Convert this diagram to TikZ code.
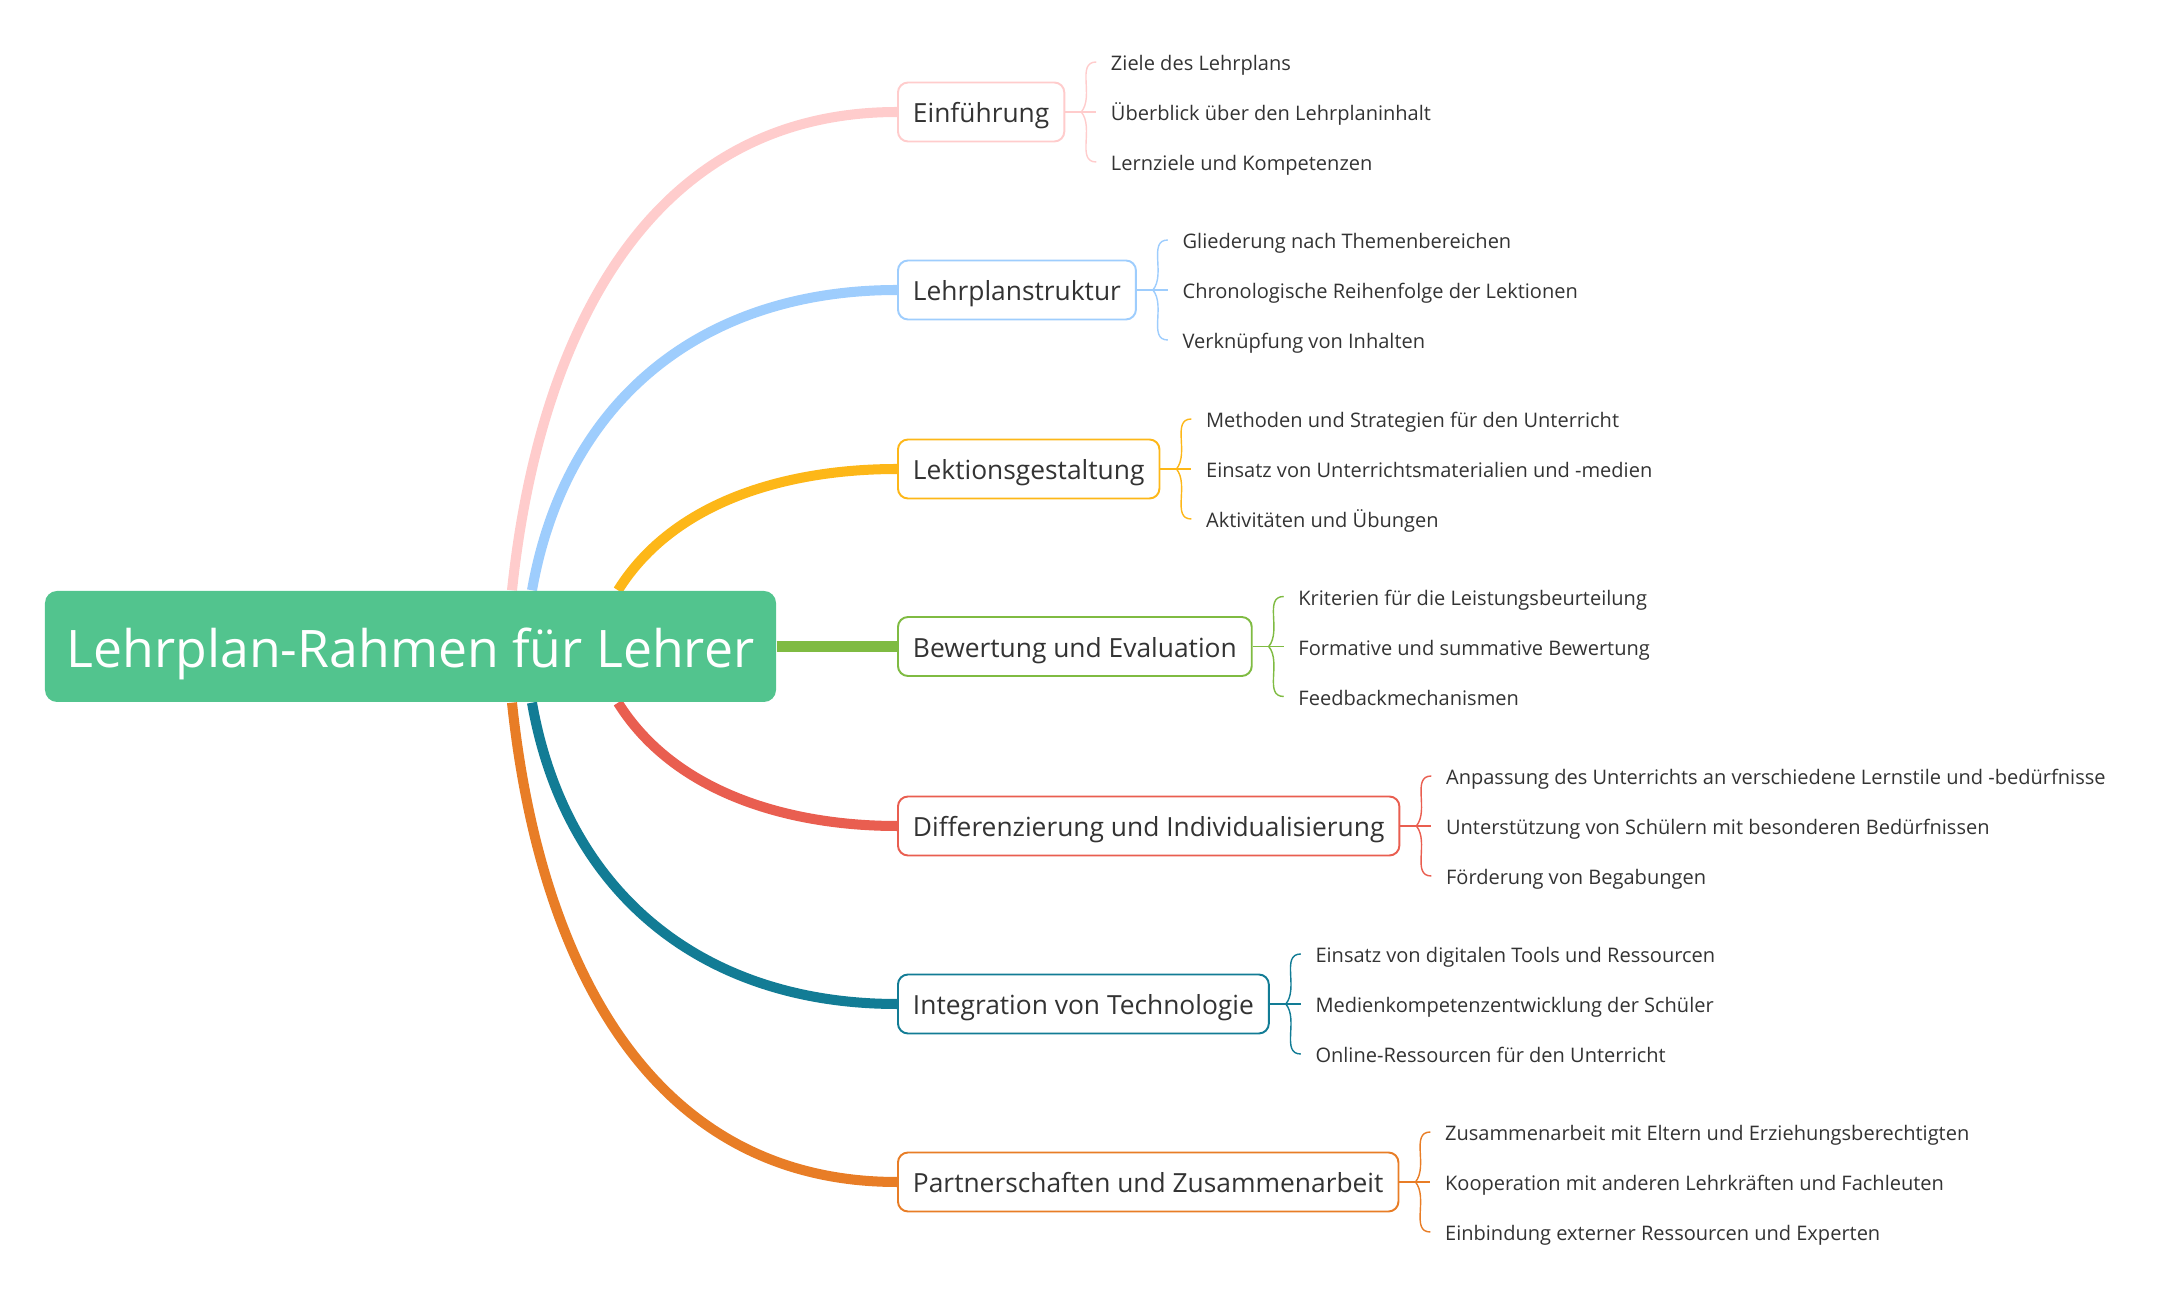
\documentclass[tikz,border=0pt]{standalone}
\usepackage{fontspec}
\setmainfont{Open Sans}
\usepackage{tikz}
\usetikzlibrary{positioning,backgrounds}
\definecolor{RootGreen}{HTML}{52C48E}
\definecolor{PinkLine}{HTML}{FFCCCC}
\definecolor{BlueLine}{HTML}{9ECDFD}
\definecolor{YellowLine}{HTML}{FDB718}
\definecolor{GreenLine}{HTML}{7FBB42}
\definecolor{RedLine}{HTML}{E95E50}
\definecolor{TealLine}{HTML}{127C95}
\definecolor{OrangeLine}{HTML}{E87D26}
\definecolor{TextGray}{HTML}{333333}
\tikzset{
  rootnode/.style={fill=RootGreen,rounded corners=0.12cm,
    minimum width=7.31cm,minimum height=1.11cm,inner sep=0pt,
    text height=11.9pt,text depth=0pt,
    font=\fontsize{14.72}{17}\selectfont\color{white}},
  brnode/.style={draw=#1,fill=white,rounded corners=0.1cm,line width=0.55pt,
    minimum height=0.59cm,inner xsep=0.15cm,inner ysep=0pt,anchor=west,
    text height=6pt,text depth=0pt,
    font=\fontsize{7.5}{9}\selectfont\color{TextGray}},
  leaf/.style={inner xsep=0.14cm,inner ysep=1pt,
    text height=4.9pt,text depth=0pt,
    font=\fontsize{5.7}{7}\selectfont\color{TextGray}},
  mainedge/.style={line width=2.85pt,draw=#1,looseness=1.05},
  brace/.style={line width=0.4pt,draw=#1},
}
\begin{document}
\begin{tikzpicture}
  \useasboundingbox (0,0) rectangle (21.64,13.10);
  \node[rootnode] (root) at (4.105,6.635) {Lehrplan-Rahmen für Lehrer};
  % branches
  \node[brnode=PinkLine] (b1) at (8.97,11.98) {Einführung};
  \node[brnode=BlueLine] (b2) at (8.97,10.20) {Lehrplanstruktur};
  \node[brnode=YellowLine] (b3) at (8.97,8.41) {Lektionsgestaltung};
  \node[brnode=GreenLine] (b4) at (8.97,6.635) {Bewertung und Evaluation};
  \node[brnode=RedLine] (b5) at (8.97,4.84) {Differenzierung und Individualisierung};
  \node[brnode=TealLine] (b6) at (8.97,3.06) {Integration von Technologie};
  \node[brnode=OrangeLine] (b7) at (8.97,1.28) {Partnerschaften und Zusammenarbeit};
  % leaves
  \node[leaf, right=0.31 of b1] (l12) {Überblick über den Lehrplaninhalt};
  \node[leaf, above=0.5 of l12.west, anchor=west] (l11) {Ziele des Lehrplans};
  \node[leaf, below=0.5 of l12.west, anchor=west] (l13) {Lernziele und Kompetenzen};
  \node[leaf, right=0.31 of b2] (l22) {Chronologische Reihenfolge der Lektionen};
  \node[leaf, above=0.5 of l22.west, anchor=west] (l21) {Gliederung nach Themenbereichen};
  \node[leaf, below=0.5 of l22.west, anchor=west] (l23) {Verknüpfung von Inhalten};
  \node[leaf, right=0.31 of b3] (l32) {Einsatz von Unterrichtsmaterialien und -medien};
  \node[leaf, above=0.5 of l32.west, anchor=west] (l31) {Methoden und Strategien für den Unterricht};
  \node[leaf, below=0.5 of l32.west, anchor=west] (l33) {Aktivitäten und Übungen};
  \node[leaf, right=0.31 of b4] (l42) {Formative und summative Bewertung};
  \node[leaf, above=0.5 of l42.west, anchor=west] (l41) {Kriterien für die Leistungsbeurteilung};
  \node[leaf, below=0.5 of l42.west, anchor=west] (l43) {Feedbackmechanismen};
  \node[leaf, right=0.31 of b5] (l52) {Unterstützung von Schülern mit besonderen Bedürfnissen};
  \node[leaf, above=0.5 of l52.west, anchor=west] (l51) {Anpassung des Unterrichts an verschiedene Lernstile und -bedürfnisse};
  \node[leaf, below=0.5 of l52.west, anchor=west] (l53) {Förderung von Begabungen};
  \node[leaf, right=0.31 of b6] (l62) {Medienkompetenzentwicklung der Schüler};
  \node[leaf, above=0.5 of l62.west, anchor=west] (l61) {Einsatz von digitalen Tools und Ressourcen};
  \node[leaf, below=0.5 of l62.west, anchor=west] (l63) {Online-Ressourcen für den Unterricht};
  \node[leaf, right=0.31 of b7] (l72) {Kooperation mit anderen Lehrkräften und Fachleuten};
  \node[leaf, above=0.5 of l72.west, anchor=west] (l71) {Zusammenarbeit mit Eltern und Erziehungsberechtigten};
  \node[leaf, below=0.5 of l72.west, anchor=west] (l73) {Einbindung externer Ressourcen und Experten};
  % main connectors
  \begin{scope}[on background layer]
    \draw[mainedge=PinkLine] ([xshift=1.015cm]root.north) to[out=84,in=180] (b1.west);
    \draw[mainedge=BlueLine] ([xshift=1.215cm]root.north) to[out=80,in=180] (b2.west);
    \draw[mainedge=YellowLine,looseness=0.9] ([xshift=2.075cm]root.north) to[out=58,in=180] (b3.west);
    \draw[mainedge=GreenLine] (root.east) -- (b4.west);
    \draw[mainedge=RedLine,looseness=0.9] ([xshift=2.075cm]root.south) to[out=-58,in=180] (b5.west);
    \draw[mainedge=TealLine] ([xshift=1.215cm]root.south) to[out=-80,in=180] (b6.west);
    \draw[mainedge=OrangeLine] ([xshift=1.015cm]root.south) to[out=-84,in=180] (b7.west);
  \end{scope}
  % braces
  \draw[brace=PinkLine] (b1.east) -- ++(0.16,0) coordinate (j1) -- (l12.west);
  \draw[brace=PinkLine] (j1) to[out=50,in=180] (l11.west);
  \draw[brace=PinkLine] (j1) to[out=-50,in=180] (l13.west);
  \draw[brace=BlueLine] (b2.east) -- ++(0.16,0) coordinate (j2) -- (l22.west);
  \draw[brace=BlueLine] (j2) to[out=50,in=180] (l21.west);
  \draw[brace=BlueLine] (j2) to[out=-50,in=180] (l23.west);
  \draw[brace=YellowLine] (b3.east) -- ++(0.16,0) coordinate (j3) -- (l32.west);
  \draw[brace=YellowLine] (j3) to[out=50,in=180] (l31.west);
  \draw[brace=YellowLine] (j3) to[out=-50,in=180] (l33.west);
  \draw[brace=GreenLine] (b4.east) -- ++(0.16,0) coordinate (j4) -- (l42.west);
  \draw[brace=GreenLine] (j4) to[out=50,in=180] (l41.west);
  \draw[brace=GreenLine] (j4) to[out=-50,in=180] (l43.west);
  \draw[brace=RedLine] (b5.east) -- ++(0.16,0) coordinate (j5) -- (l52.west);
  \draw[brace=RedLine] (j5) to[out=50,in=180] (l51.west);
  \draw[brace=RedLine] (j5) to[out=-50,in=180] (l53.west);
  \draw[brace=TealLine] (b6.east) -- ++(0.16,0) coordinate (j6) -- (l62.west);
  \draw[brace=TealLine] (j6) to[out=50,in=180] (l61.west);
  \draw[brace=TealLine] (j6) to[out=-50,in=180] (l63.west);
  \draw[brace=OrangeLine] (b7.east) -- ++(0.16,0) coordinate (j7) -- (l72.west);
  \draw[brace=OrangeLine] (j7) to[out=50,in=180] (l71.west);
  \draw[brace=OrangeLine] (j7) to[out=-50,in=180] (l73.west);
\end{tikzpicture}
\end{document}
